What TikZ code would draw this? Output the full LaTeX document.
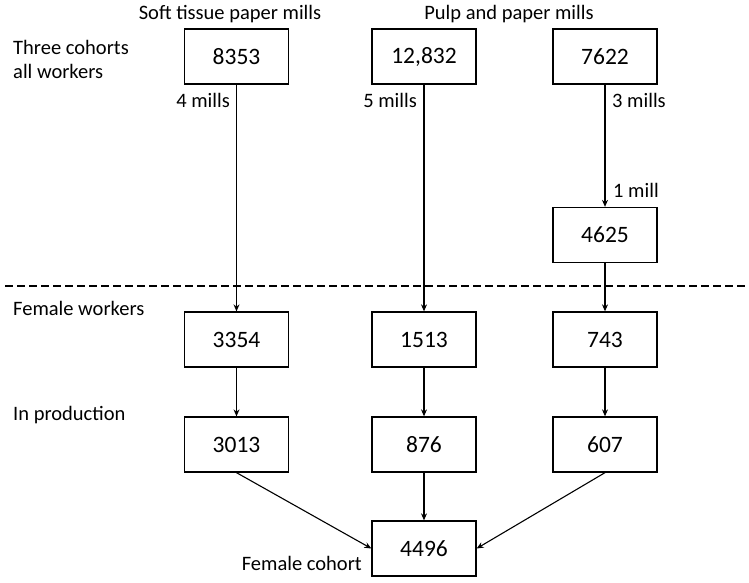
\documentclass[tikz,border=0pt]{standalone}
\usepackage{fontspec}
\setmainfont{Carlito}
\usetikzlibrary{arrows.meta}
\begin{document}
\begin{tikzpicture}[x=1pt,y=-1pt,
  numbox/.style={draw,line width=1.3pt,minimum width=104pt,minimum height=55pt,inner sep=0pt,font=\fontsize{23.5}{27}\selectfont},
  lbl/.style={inner sep=0pt,font=\fontsize{20.5}{24}\selectfont},
  conn/.style={line width=1.1pt,-{Stealth[length=7pt,width=6pt]}},
  plainconn/.style={line width=1.1pt}]
\useasboundingbox (0,0) rectangle (749,583);
% boxes
\node[numbox] (a1) at (236.5,56.5) {8353};
\node[numbox] (a2) at (424,56.5) {12,832};
\node[numbox] (a3) at (605,56.5) {7622};
\node[numbox] (b3) at (605,235) {4625};
\node[numbox] (f1) at (236.5,339.5) {3354};
\node[numbox] (f2) at (424,339.5) {1513};
\node[numbox] (f3) at (605,339.5) {743};
\node[numbox] (p1) at (236.5,444.5) {3013};
\node[numbox] (p2) at (424,444.5) {876};
\node[numbox] (p3) at (605,444.5) {607};
\node[numbox] (c) at (424,548.5) {4496};
% labels
\node[lbl] (t1) at (230,14) {Soft tissue paper mills};
\node[lbl] (t2) at (509,14) {Pulp and paper mills};
\node[lbl,anchor=west,align=left] (l1) at (13,59) {Three cohorts\\all workers};
\node[lbl,anchor=west] (l2) at (13,308) {Female workers};
\node[lbl,anchor=west] (l3) at (13,415) {In production};
\node[lbl,anchor=east] (l4) at (362,563) {Female cohort};
\node[lbl,anchor=east] (m1) at (230,100) {4 mills};
\node[lbl,anchor=east] (m2) at (417,100) {5 mills};
\node[lbl,anchor=west] (m3) at (612,100) {3 mills};
\node[lbl,anchor=west] (m4) at (613,190) {1 mill};
% dashed separator
\coordinate (d1) at (5,286);
\coordinate (d2) at (747,286);
\draw[line width=1.8pt,dash pattern=on 8pt off 4pt] (d1) -- (d2);
% connectors
\draw[conn] (a1) -- (f1);
\draw[conn] (a2) -- (f2);
\draw[conn] (a3) -- (b3);
\draw[conn] (b3) -- (f3);
\draw[conn] (f1) -- (p1);
\draw[conn] (f2) -- (p2);
\draw[conn] (f3) -- (p3);
\draw[conn] (p1.south) -- (c.west);
\draw[conn] (p2) -- (c);
\draw[conn] (p3.south) -- (c.east);
\end{tikzpicture}
\end{document}
